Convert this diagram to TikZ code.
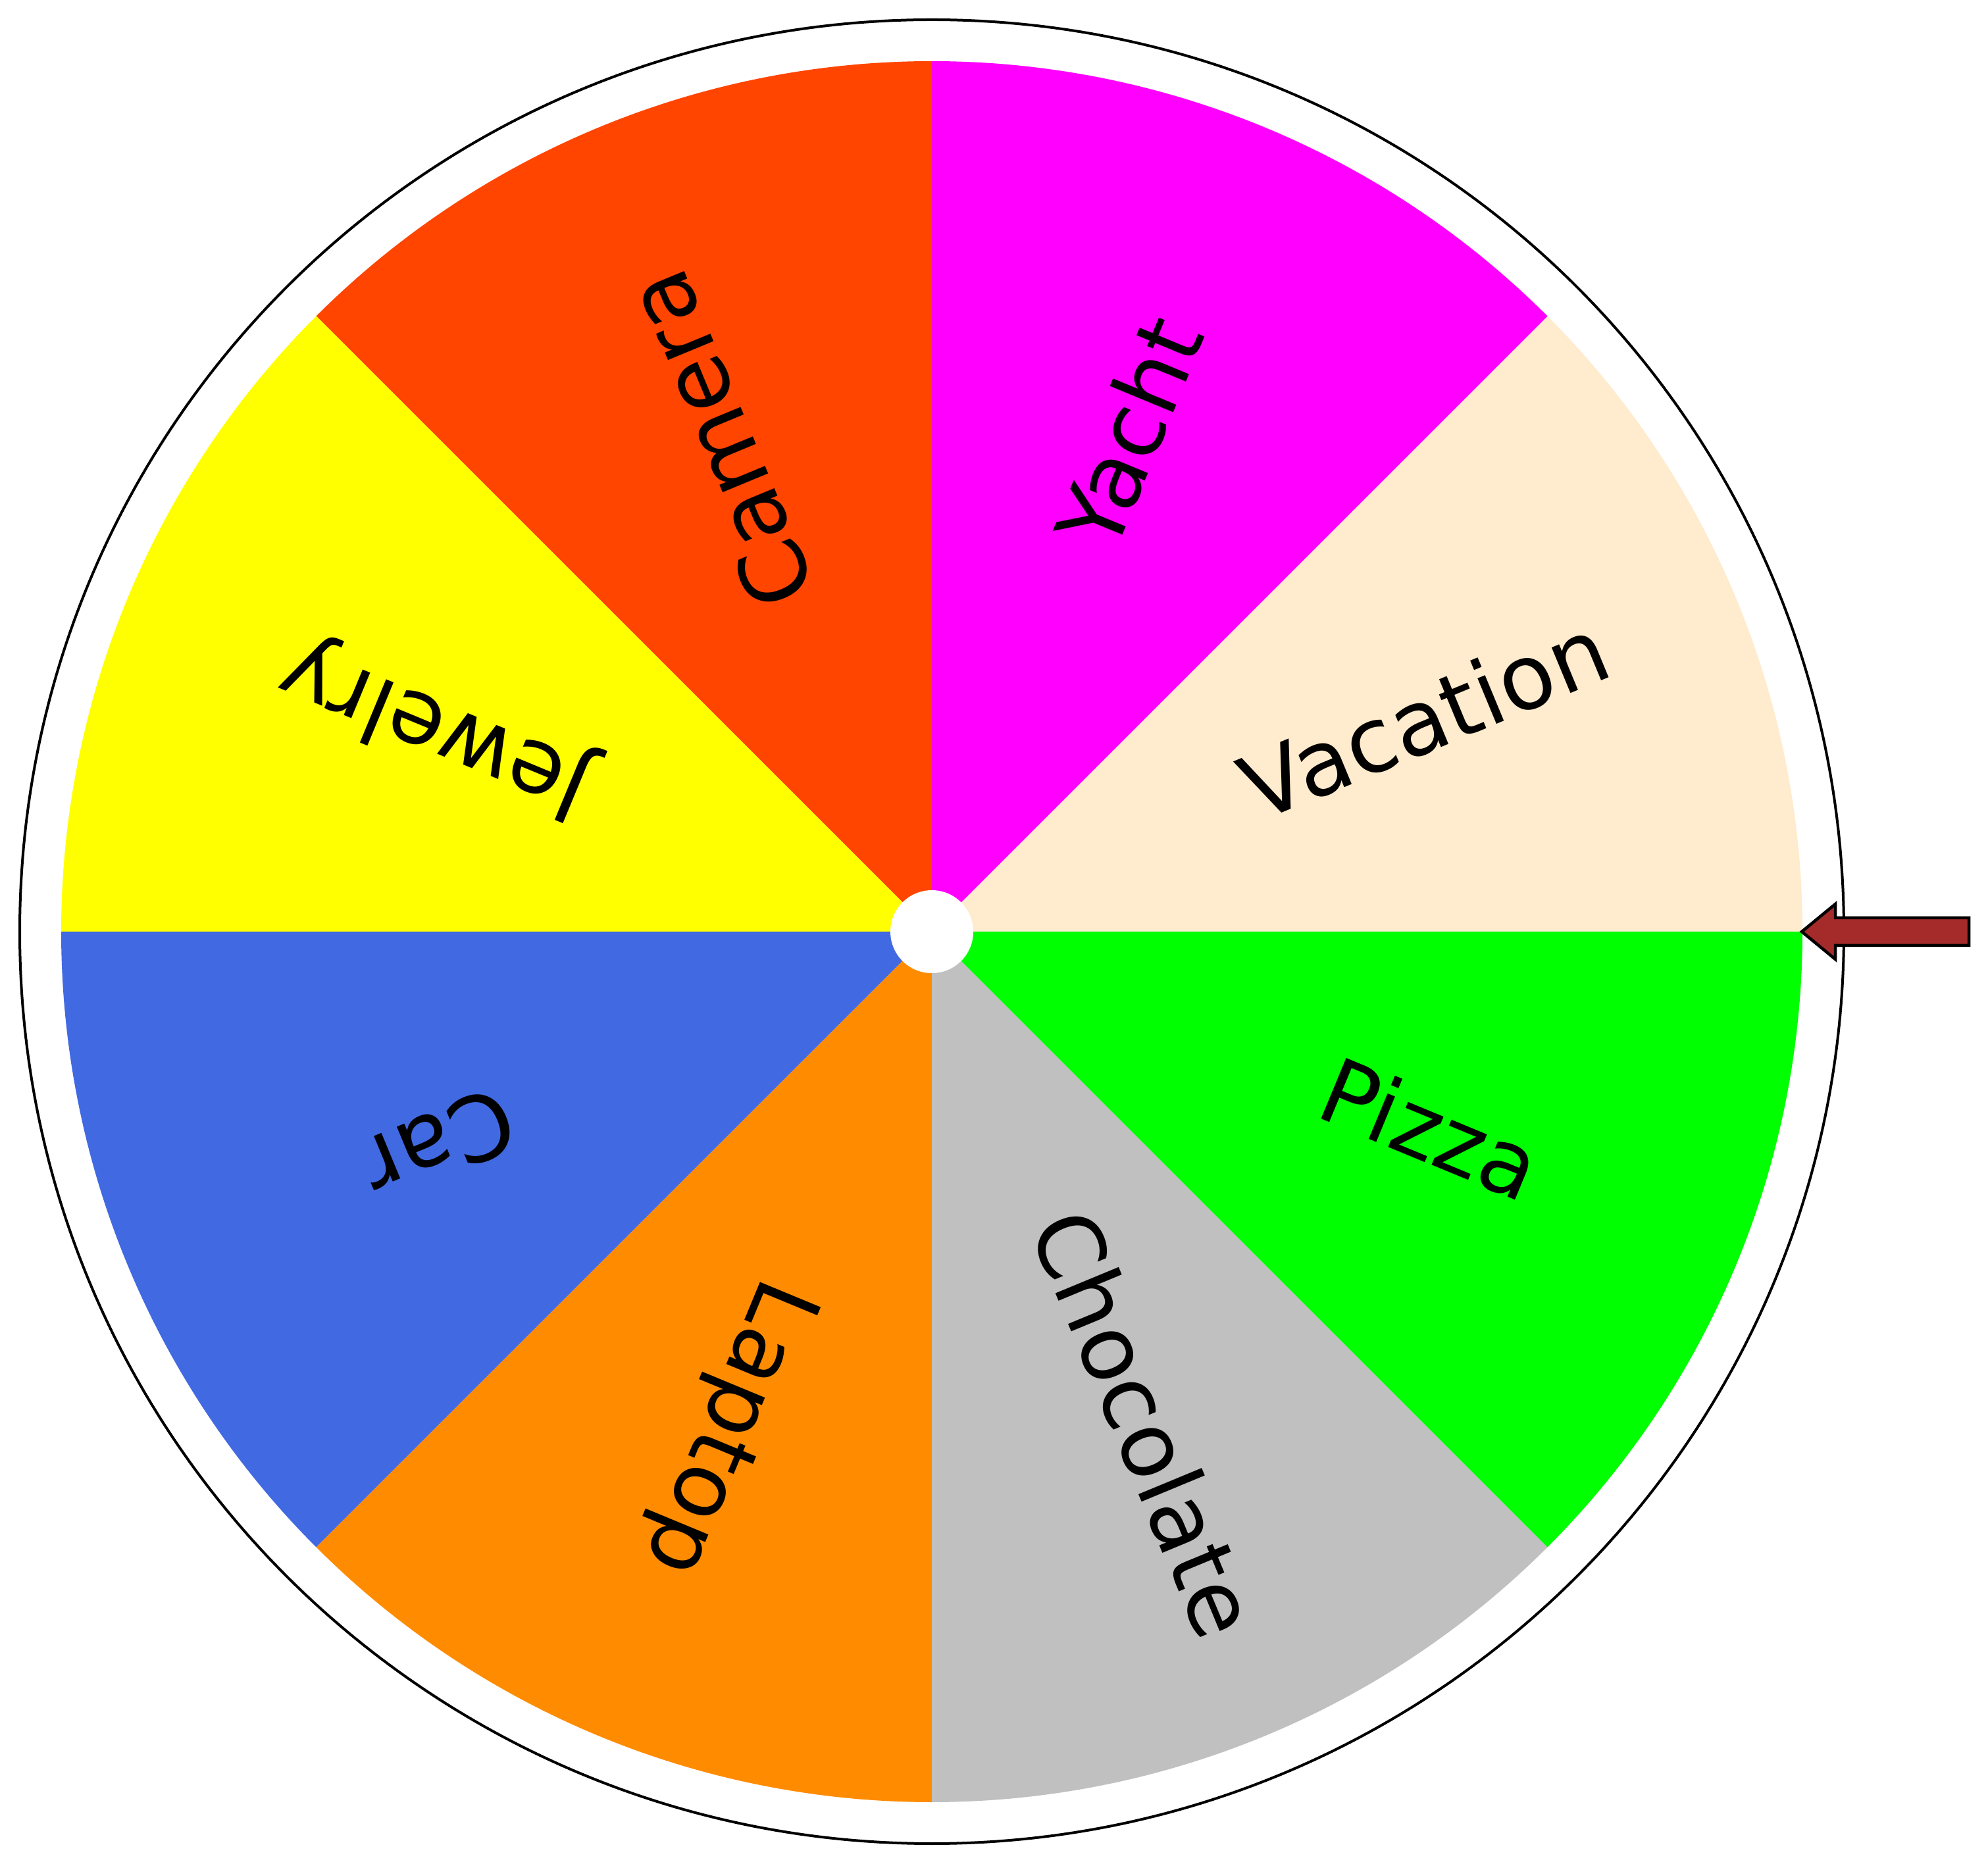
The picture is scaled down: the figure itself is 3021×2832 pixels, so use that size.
\documentclass[tikz,border=0pt]{standalone}
\usepackage{fontspec}
\setmainfont{DejaVu Sans}
\definecolor{cVacation}{HTML}{FFEBCD}
\definecolor{cYacht}{HTML}{FF00FF}
\definecolor{cCamera}{HTML}{FF4500}
\definecolor{cJewelry}{HTML}{FFFF00}
\definecolor{cCar}{HTML}{4169E1}
\definecolor{cLaptop}{HTML}{FF8C00}
\definecolor{cChocolate}{HTML}{C0C0C0}
\definecolor{cPizza}{HTML}{00FF00}
\definecolor{cArrow}{HTML}{A52A2A}
\tikzset{
  label text/.style={font=\fontsize{13.7}{16}\selectfont, text=black, inner sep=0pt, anchor=base},
  rim/.style={draw=black, line width=0.4pt},
  pointer/.style={fill=cArrow, draw=black, line width=0.45pt, line join=miter}
}
\begin{document}
\begin{tikzpicture}[x=0.1pt,y=0.1pt]
\useasboundingbox (0,0) rectangle (3021,2832);
\coordinate (c) at (1416,1416);
\draw[rim] (c) circle[radius=1386];
\foreach \a/\col in {0/cVacation,45/cYacht,90/cCamera,135/cJewelry,180/cCar,225/cLaptop,270/cChocolate,315/cPizza}{
  \fill[\col] (c) -- ++(\a:1323) arc[start angle=\a, end angle=\a+45, radius=1323] -- cycle;
}
\foreach \a/\t in {22.5/Vacation,67.5/Yacht,112.5/Camera,157.5/Jewelry,202.5/Car,247.5/Laptop,292.5/Chocolate,337.5/Pizza}{
  \node[label text, rotate=\a] (\t) at ([shift={(\a:815)}, shift={(\a-90:37)}]c) {\t};
}
\fill[white] (c) circle[radius=63];
\coordinate (tip) at (2738,1416);
\draw[pointer] (tip) -- ++(51,42) -- ++(0,-21) -- ++(203,0) -- ++(0,-42) -- ++(-203,0) -- ++(0,-21) -- cycle;
\end{tikzpicture}
\end{document}
